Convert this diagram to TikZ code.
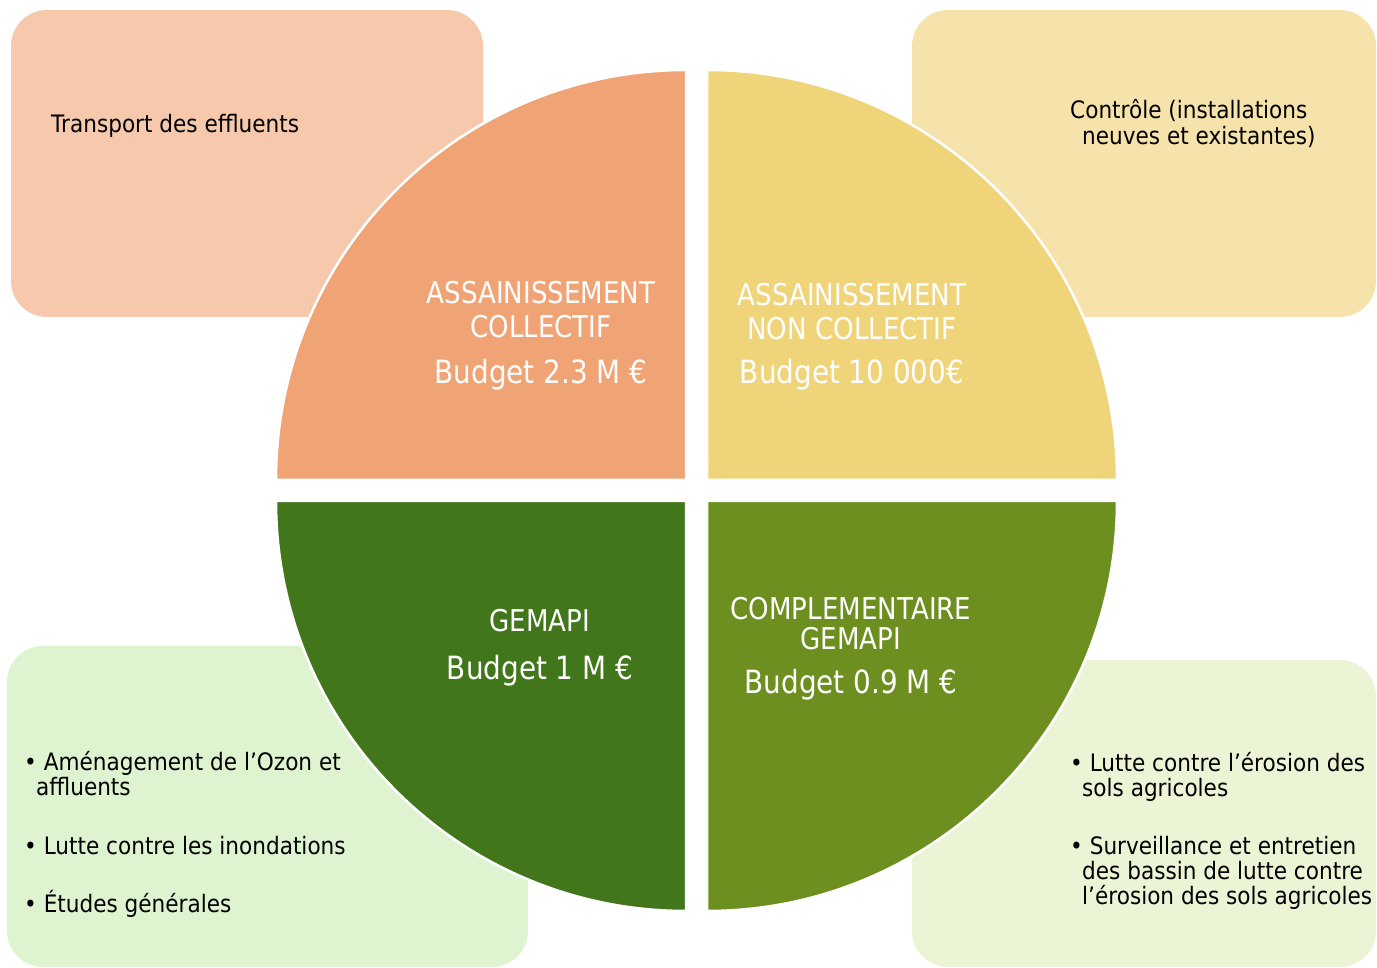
\documentclass[tikz,border=0pt]{standalone}
\usepackage{fontspec}
\newfontfamily\bodyfont[FakeStretch=0.9]{DejaVu Sans}
\newfontfamily\titlefont[FakeStretch=0.87]{DejaVu Sans}
\definecolor{qorange}{HTML}{F0A374}
\definecolor{qyellow}{HTML}{EFD47A}
\definecolor{qdgreen}{HTML}{41761B}
\definecolor{qolive}{HTML}{6C8F20}
\definecolor{borange}{HTML}{F6C9AC}
\definecolor{byellow}{HTML}{F6E3AB}
\definecolor{bgreenl}{HTML}{DEF3D0}
\definecolor{bgreenr}{HTML}{EBF5D6}
\tikzset{
  infobox/.style={rounded corners=36pt},
  quadrant/.style={draw=white, line width=2.5pt},
  bodytxt/.style={anchor=base west, inner sep=0pt, text=black, font=\bodyfont\fontsize{24}{25}\selectfont},
  titletxt/.style={anchor=base, inner sep=0pt, text=white, font=\titlefont\fontsize{30}{32}\selectfont},
  budgettxt/.style={anchor=base, inner sep=0pt, text=white, font=\titlefont\fontsize{32}{34}\selectfont}
}
\begin{document}
\begin{tikzpicture}[x=1pt,y=1pt]
\useasboundingbox (0,0) rectangle (1377,968);
% side boxes
\fill[borange, infobox] (11,651) rectangle (483,958);
\fill[byellow, infobox] (912,651) rectangle (1376,958);
\fill[bgreenl, infobox] (7,1) rectangle (528,322);
\fill[bgreenr, infobox] (912,1) rectangle (1376,308);
% quadrants
\filldraw[quadrant, fill=qorange] (686,488) -- (276,488) arc[start angle=180, end angle=90, radius=410pt] -- cycle;
\filldraw[quadrant, fill=qyellow] (707,488) -- (707,898) arc[start angle=90, end angle=0, radius=410pt] -- cycle;
\filldraw[quadrant, fill=qdgreen] (686,467) -- (276,467) arc[start angle=180, end angle=270, radius=410pt] -- cycle;
\filldraw[quadrant, fill=qolive] (707,467) -- (1117,467) arc[start angle=0, end angle=-90, radius=410pt] -- cycle;
% quadrant titles
\node[titletxt] (ac1) at (541,664) {ASSAINISSEMENT};
\node[titletxt] (ac2) at (541,630) {COLLECTIF};
\node[budgettxt] (ac3) at (541,584) {Budget 2.3 M €};
\node[titletxt] (anc1) at (852,662) {ASSAINISSEMENT};
\node[titletxt] (anc2) at (852,628) {NON COLLECTIF};
\node[budgettxt] (anc3) at (852,584) {Budget 10 000€};
\node[titletxt] (gm1) at (540,336) {GEMAPI};
\node[budgettxt] (gm2) at (540,288) {Budget 1 M €};
\node[titletxt] (cg1) at (851,348) {COMPLEMENTAIRE};
\node[titletxt] (cg2) at (851,318) {GEMAPI};
\node[budgettxt] (cg3) at (851,274) {Budget 0.9 M €};
% box texts
\node[bodytxt] (tr) at (51,835) {Transport des effluents};
\node[bodytxt] (ct1) at (1070,849) {Contrôle (installations};
\node[bodytxt] (ct2) at (1082,823) {neuves et existantes)};
\node[bodytxt] (bl1) at (24,197) {• Aménagement de l’Ozon et};
\node[bodytxt] (bl2) at (36,172) {affluents};
\node[bodytxt] (bl3) at (24,113) {• Lutte contre les inondations};
\node[bodytxt] (bl4) at (24,55) {• Études générales};
\node[bodytxt] (br1) at (1070,196) {• Lutte contre l’érosion des};
\node[bodytxt] (br2) at (1082,171) {sols agricoles};
\node[bodytxt] (br3) at (1070,113) {• Surveillance et entretien};
\node[bodytxt] (br4) at (1082,88) {des bassin de lutte contre};
\node[bodytxt] (br5) at (1082,63) {l’érosion des sols agricoles};
\end{tikzpicture}
\end{document}
